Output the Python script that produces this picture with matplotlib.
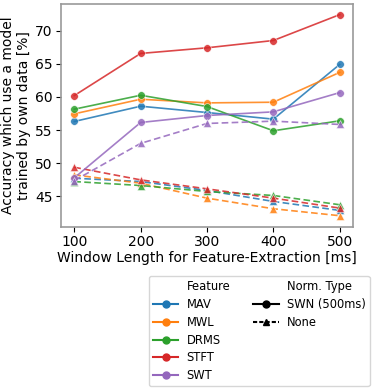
import matplotlib
matplotlib.use("Agg")
import matplotlib.pyplot as plt
from matplotlib.lines import Line2D

windows = [100, 200, 300, 400, 500]
features = ["MAV", "MWL", "DRMS", "STFT", "SWT"]
colors = ["#1f77b4", "#ff7f0e", "#2ca02c", "#d62728", "#9467bd"]

swn = {
    "MAV":  [56.3, 58.6, 57.65, 56.65, 64.9],
    "MWL":  [57.45, 59.65, 59.1, 59.2, 63.7],
    "DRMS": [58.15, 60.25, 58.55, 54.9, 56.4],
    "STFT": [60.2, 66.55, 67.4, 68.5, 72.4],
    "SWT":  [47.8, 56.15, 57.2, 57.75, 60.65],
}
none = {
    "MAV":  [47.75, 47.25, 45.9, 44.25, 42.9],
    "MWL":  [48.25, 47.0, 44.75, 43.15, 42.1],
    "DRMS": [47.25, 46.65, 45.75, 45.15, 43.75],
    "STFT": [49.4, 47.5, 46.15, 44.75, 43.25],
    "SWT":  [47.4, 53.0, 56.0, 56.35, 55.85],
}
norm_types = ["SWN (500ms)", "None"]

fig = plt.figure(figsize=(3.82, 3.90), dpi=100)
ax = fig.add_axes([61/382, 1-227/390, 292/382, 223/390])

for f, c in zip(features, colors):
    ax.plot(windows, swn[f], color=c, marker="o", markersize=5.5, lw=1.2,
            alpha=0.85, markeredgecolor="white", markeredgewidth=0.4)
    ax.plot(windows, none[f], color=c, marker="^", markersize=5.5, lw=1.2,
            ls=(0, (4, 2)), alpha=0.85, markeredgecolor="white", markeredgewidth=0.4)

ax.set_xticks(windows)
ax.set_yticks([45, 50, 55, 60, 65, 70])
ax.tick_params(labelsize=10, pad=2.5)
ax.set_xlabel("Window Length for Feature-Extraction [ms]", fontsize=10, labelpad=1)
ax.set_ylabel("Accuracy which use a model\ntrained by own data [%]", fontsize=10, labelpad=3)
for s in ax.spines.values():
    s.set_color("#999999")
    s.set_linewidth(1.2)
ax.set_xlim(80, 520)
ax.set_ylim(40.4, 74.0)

handles = [Line2D([], [], ls="none", label="Feature")]
for f, c in zip(features, colors):
    handles.append(Line2D([], [], color=c, marker="o", markersize=5, lw=1.5, label=f))
handles.append(Line2D([], [], ls="none", label="Norm. Type"))
handles.append(Line2D([], [], color="black", marker="o", markersize=5, lw=1.5, label=norm_types[0]))
handles.append(Line2D([], [], color="black", marker="^", markersize=5, lw=1.5, ls=(0, (2, 1)), label=norm_types[1]))
handles.append(Line2D([], [], ls="none", label=" "))
handles.append(Line2D([], [], ls="none", label=" "))
handles.append(Line2D([], [], ls="none", label=" "))

leg = fig.legend(handles=handles, ncol=2, fontsize=8.3, loc="upper left",
                 bbox_to_anchor=(149/382, 1-276/390), frameon=True,
                 borderaxespad=0, handlelength=2.2, columnspacing=2.0,
                 labelspacing=0.42, borderpad=0.35, handletextpad=0.7)

fig.savefig("out.png", dpi=100)
